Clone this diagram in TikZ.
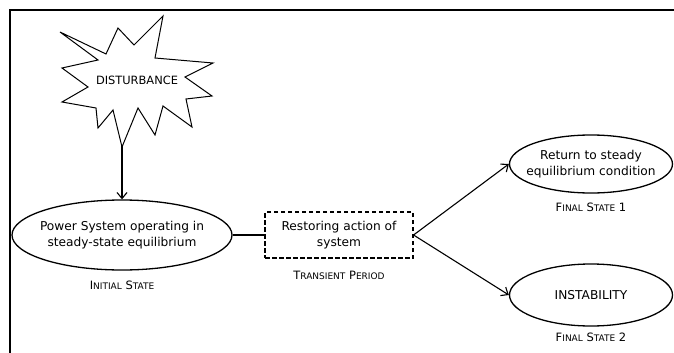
\documentclass[tikz,border=0pt]{standalone}
\usepackage{fontspec}
\setmainfont{DejaVu Sans}
\usetikzlibrary{shapes.geometric,positioning,arrows.meta}

\newcommand{\fakesc}[2]{#1{\fontsize{9}{11}\selectfont #2}}

\begin{document}
\begin{tikzpicture}[x=1pt,y=-1pt,
    state/.style={ellipse,draw,line width=1.3pt,inner sep=0pt,align=center,
      font=\fontsize{12.2}{16}\selectfont},
    transbox/.style={rectangle,draw,line width=1.1pt,dash pattern=on 4.5pt off 2.5pt,
      align=center,inner sep=0pt,font=\fontsize{12.2}{16}\selectfont},
    caption/.style={font=\fontsize{11.5}{13}\selectfont,inner sep=1pt},
    flow/.style={line width=1.1pt,-{Straight Barb[length=6pt,width=10pt]}}]

\useasboundingbox (0,0) rectangle (674,353);

% frame
\draw[line width=1.7pt] (674,10) -- (10,10) -- (10,353);

% disturbance burst
\draw[line width=1pt] (60,32) -- (106,54) -- (118,28) -- (134,45) -- (163,16)
  -- (155,58) -- (213,63) -- (185,77) -- (212,96) -- (186,99) -- (192,127)
  -- (163,106) -- (155,135) -- (138,108) -- (122,147) -- (113,110) -- (98,128)
  -- (96,108) -- (62,102) -- (88,87) -- (62,68) -- (98,60) -- cycle;
\node[font=\fontsize{11.4}{13}\selectfont] (dist) at (137,80) {DISTURBANCE};
\coordinate (disttip) at (122,146);

% states
\node[state,inner xsep=-8pt,minimum width=220pt,minimum height=70pt] (init) at (122,235)
  {Power System operating in\\steady-state equilibrium};
\node[transbox,minimum width=148pt,minimum height=46pt] (trans) at (339,235)
  {Restoring action of\\system};
\node[state,inner xsep=-16pt,minimum width=163pt,minimum height=58pt] (fin1) at (591,164)
  {Return to steady\\equilibrium condition};
\node[state,minimum width=163pt,minimum height=62pt] (fin2) at (591,295)
  {INSTABILITY};

% captions
\node[caption,below=9pt of init] (capinit) {\fakesc{I}{NITIAL} \fakesc{S}{TATE}};
\node[caption,below=11pt of trans] (captrans) {\fakesc{T}{RANSIENT} \fakesc{P}{ERIOD}};
\node[caption,below=8pt of fin1] (capfin1) {\fakesc{F}{INAL} \fakesc{S}{TATE} 1};
\node[caption,below=5pt of fin2] (capfin2) {\fakesc{F}{INAL} \fakesc{S}{TATE} 2};

% connections
\draw[flow] (disttip) -- (init.north);
\draw[line width=1.1pt] (init.east) -- (trans.west);
\draw[flow] (trans.east) -- (fin1.west);
\draw[flow] (trans.east) -- (fin2.west);

\end{tikzpicture}
\end{document}
